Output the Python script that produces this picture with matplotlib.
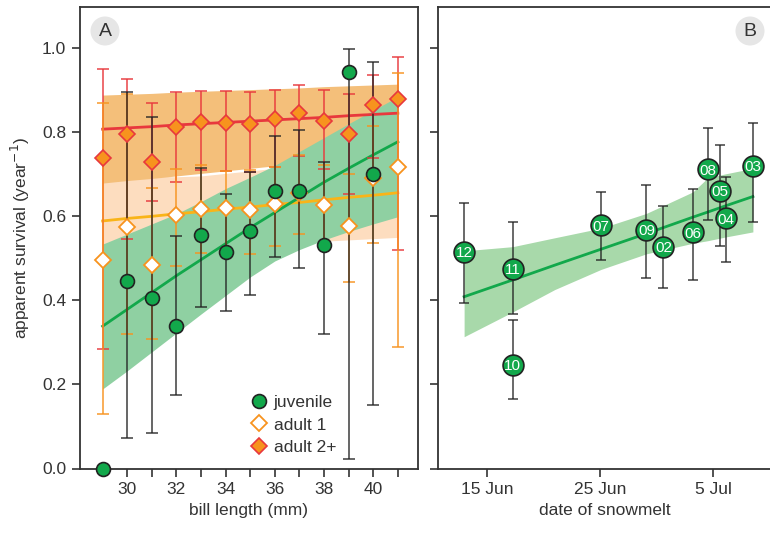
import numpy as np
import matplotlib
matplotlib.use("Agg")
import matplotlib.pyplot as plt
from matplotlib.patches import Circle

plt.rcParams['font.family'] = ['Liberation Sans', 'DejaVu Sans']

# ---------------- Panel A data ----------------
bill = [29, 30, 31, 32, 33, 34, 35, 36, 37, 38, 39, 40, 41]

juv_x = [29, 30, 31, 32, 33, 34, 35, 36, 37, 38, 39, 40]
juv_y = [0.0, 0.446, 0.406, 0.338, 0.555, 0.514, 0.564, 0.660, 0.660, 0.531, 0.943, 0.700]
juv_lo = [np.nan, 0.072, 0.085, 0.175, 0.384, 0.375, 0.412, 0.502, 0.476, 0.320, 0.022, 0.152]
juv_hi = [np.nan, 0.895, 0.834, 0.553, 0.713, 0.651, 0.705, 0.789, 0.805, 0.729, 0.997, 0.966]

ad1_y = [0.495, 0.574, 0.484, 0.603, 0.617, 0.619, 0.614, 0.628, 0.655, 0.626, 0.577, 0.691, 0.715]
ad1_lo = [0.129, 0.320, 0.307, 0.480, 0.513, 0.520, 0.509, 0.528, 0.556, 0.530, 0.443, 0.535, 0.288]
ad1_hi = [0.868, 0.890, 0.667, 0.712, 0.720, 0.707, 0.710, 0.717, 0.745, 0.720, 0.699, 0.814, 0.939]

ad2_y = [0.738, 0.794, 0.727, 0.810, 0.822, 0.821, 0.818, 0.829, 0.845, 0.826, 0.795, 0.864, 0.877]
ad2_lo = [0.285, 0.545, 0.636, 0.681, 0.709, 0.707, 0.705, 0.717, 0.742, 0.711, 0.651, 0.737, 0.520]
ad2_hi = [0.950, 0.925, 0.868, 0.895, 0.897, 0.896, 0.894, 0.899, 0.910, 0.900, 0.889, 0.935, 0.978]

# fitted curves and confidence bands (panel A)
fit_x = [29, 30, 31, 32, 33, 34, 35, 36, 37, 38, 39, 40, 41]
juv_fit = [0.338, 0.378, 0.418, 0.458, 0.496, 0.534, 0.572, 0.608, 0.644, 0.680, 0.713, 0.745, 0.776]
juv_band_lo = [0.189, 0.232, 0.277, 0.322, 0.367, 0.411, 0.455, 0.493, 0.520, 0.543, 0.563, 0.581, 0.598]
juv_band_hi = [0.533, 0.557, 0.581, 0.605, 0.634, 0.665, 0.692, 0.720, 0.753, 0.786, 0.819, 0.851, 0.883]

ad1_fit = [0.588, 0.594, 0.599, 0.605, 0.610, 0.616, 0.621, 0.627, 0.632, 0.638, 0.644, 0.649, 0.655]
ad1_band_lo = [0.420, 0.440, 0.460, 0.475, 0.490, 0.503, 0.515, 0.525, 0.535, 0.540, 0.543, 0.546, 0.549]
ad1_band_hi = [0.684, 0.689, 0.694, 0.693, 0.695, 0.701, 0.707, 0.713, 0.719, 0.725, 0.732, 0.738, 0.745]

ad2_fit = [0.806, 0.809, 0.812, 0.816, 0.819, 0.822, 0.825, 0.828, 0.831, 0.834, 0.838, 0.841, 0.844]
ad2_band_lo = [0.678, 0.684, 0.689, 0.695, 0.701, 0.707, 0.713, 0.719, 0.725, 0.731, 0.738, 0.744, 0.750]
ad2_band_hi = [0.887, 0.889, 0.891, 0.894, 0.896, 0.898, 0.900, 0.902, 0.904, 0.907, 0.909, 0.911, 0.913]

# ---------------- Panel B data ----------------
yr_labels = ['12', '11', '10', '07', '09', '02', '06', '08', '05', '04', '03']
melt_day = [13.0, 17.3, 17.3, 25.1, 29.1, 30.6, 33.2, 34.5, 35.6, 36.1, 38.5]   # day of June
surv_b = [0.515, 0.474, 0.247, 0.578, 0.567, 0.527, 0.561, 0.711, 0.660, 0.595, 0.719]
surv_b_lo = [0.393, 0.367, 0.166, 0.495, 0.453, 0.429, 0.448, 0.590, 0.528, 0.490, 0.586]
surv_b_hi = [0.631, 0.586, 0.352, 0.657, 0.673, 0.624, 0.665, 0.809, 0.769, 0.692, 0.821]

bfit_x = [13.0, 17.3, 21.0, 25.1, 29.1, 33.2, 34.5, 36.1, 38.5]
bfit_y = [0.408, 0.448, 0.483, 0.521, 0.558, 0.597, 0.609, 0.624, 0.646]
bband_lo = [0.313, 0.372, 0.425, 0.473, 0.510, 0.535, 0.541, 0.550, 0.562]
bband_hi = [0.517, 0.527, 0.548, 0.571, 0.606, 0.657, 0.690, 0.700, 0.713]

date_ticks = [15, 25, 35]
date_labels = ['15 Jun', '25 Jun', '5 Jul']

# ---------------- styling ----------------
C_GREEN = '#12A84B'
C_GREEN_BAND = '#8FD0A2'
C_GREEN_BAND_B = '#A8D9AA'
C_RED = '#E8383D'
C_ORANGE = '#F7931E'
C_ORANGE_BAND = '#F4BF7A'
C_PEACH_BAND = '#FDDDBF'
C_YELLOW = '#F9B418'
C_DARK = '#222222'
C_AX = '#333333'

fig = plt.figure(figsize=(7.7, 5.33), dpi=100)
axA = fig.add_axes([80/770, 1-468.5/533, (418-80)/770, (468.5-7.3)/533])
axB = fig.add_axes([438.3/770, 1-468.5/533, (771-438.3)/770, (468.5-7.3)/533])

# ---- Panel A ----
axA.fill_between(fit_x, ad1_band_lo, ad1_band_hi, color=C_PEACH_BAND, lw=0, zorder=1)
axA.fill_between(fit_x, ad2_band_lo, ad2_band_hi, color=C_ORANGE_BAND, lw=0, zorder=1.1)
axA.fill_between(fit_x, juv_band_lo, juv_band_hi, color=C_GREEN_BAND, lw=0, zorder=1.2)
axA.plot(fit_x, ad2_fit, color=C_RED, lw=2, zorder=2)
axA.plot(fit_x, ad1_fit, color=C_YELLOW, lw=2, zorder=2)
axA.plot(fit_x, juv_fit, color=C_GREEN, lw=2, zorder=2)

def yerr(y, lo, hi):
    y = np.array(y); lo = np.array(lo); hi = np.array(hi)
    return np.vstack([y - lo, hi - y])

axA.errorbar(bill, ad2_y, yerr=yerr(ad2_y, ad2_lo, ad2_hi), fmt='none',
             ecolor=C_RED, elinewidth=1.3, capsize=4.3, capthick=1.3, alpha=0.8, zorder=3)
axA.errorbar(bill, ad1_y, yerr=yerr(ad1_y, ad1_lo, ad1_hi), fmt='none',
             ecolor=C_ORANGE, elinewidth=1.3, capsize=4.3, capthick=1.3, alpha=0.8, zorder=3.1)
axA.errorbar(juv_x, juv_y, yerr=yerr(juv_y, juv_lo, juv_hi), fmt='none',
             ecolor=C_DARK, elinewidth=1.3, capsize=4.3, capthick=1.3, alpha=0.75, zorder=3.2)

axA.plot(bill, ad2_y, 'D', ms=8.5, mfc=C_ORANGE, mec=C_RED, mew=1.2, ls='none', zorder=4, label='adult 2+')
axA.plot(bill, ad1_y, 'D', ms=8.5, mfc='white', mec=C_ORANGE, mew=1.3, ls='none', zorder=4.1, label='adult 1')
axA.plot(juv_x, juv_y, 'o', ms=10, mfc=C_GREEN, mec=C_DARK, mew=1.2, ls='none', zorder=4.2,
         clip_on=False, label='juvenile')

axA.set_xlim(28.08, 41.82)
axA.set_ylim(0, 1.0955)
axA.set_xticks(bill)
axA.set_xticklabels([str(b) if b % 2 == 0 else '' for b in bill])
axA.set_yticks([0.0, 0.2, 0.4, 0.6, 0.8, 1.0])
axA.set_yticklabels(['0.0', '0.2', '0.4', '0.6', '0.8', '1.0'])
axA.set_xlabel('bill length (mm)', fontsize=12.5, color=C_AX, labelpad=4)
axA.set_ylabel('apparent survival (year$^{-1}$)', fontsize=12.5, color=C_AX, labelpad=7)

handles, labels = axA.get_legend_handles_labels()
order = [2, 1, 0]
leg = axA.legend([handles[i] for i in order], [labels[i] for i in order],
                 loc='lower left', bbox_to_anchor=(0.47, 0.015), frameon=False,
                 fontsize=12.5, handletextpad=0.1, labelspacing=0.4, borderaxespad=0,
                 handlelength=1.5)
for t in leg.get_texts():
    t.set_color(C_AX)

# ---- Panel B ----
axB.fill_between(bfit_x, bband_lo, bband_hi, color=C_GREEN_BAND_B, lw=0, zorder=1)
axB.plot(bfit_x, bfit_y, color=C_GREEN, lw=2, zorder=2)
axB.errorbar(melt_day, surv_b, yerr=yerr(surv_b, surv_b_lo, surv_b_hi), fmt='none',
             ecolor=C_DARK, elinewidth=1.2, capsize=3.5, capthick=1.2, alpha=0.8, zorder=3)
axB.plot(melt_day, surv_b, 'o', ms=15, mfc=C_GREEN, mec=C_DARK, mew=1.2, ls='none', zorder=4)
for d, s, lab in zip(melt_day, surv_b, yr_labels):
    axB.text(d, s, lab, color='white', fontsize=11, ha='center', va='center_baseline', zorder=5)

axB.set_xlim(10.72, 40.1)
axB.set_ylim(0, 1.0955)
axB.set_xticks(date_ticks)
axB.set_xticklabels(date_labels)
axB.set_yticks([0.0, 0.2, 0.4, 0.6, 0.8, 1.0])
axB.set_yticklabels([])
axB.set_xlabel('date of snowmelt', fontsize=12.5, color=C_AX, labelpad=4)
axB.spines['right'].set_visible(False)

for ax in (axA, axB):
    for sp in ax.spines.values():
        sp.set_color(C_AX)
        sp.set_linewidth(1.3)
    ax.tick_params(direction='out', length=6, width=1.2, color=C_AX, labelcolor=C_AX,
                   labelsize=12.5, pad=4)

# panel letters
for ax, xpx, letter in ((axA, 105, 'A'), (axB, 750, 'B')):
    cx, cy = xpx / 770, 1 - 31 / 533
    fig.patches.append(Circle((cx * 770, cy * 533), 14.5, transform=None,
                              facecolor='#E6E6E6', edgecolor='none', zorder=0))
    fig.text(cx, cy, letter, fontsize=14, ha='center', va='center', color=C_AX, zorder=10)

fig.savefig('out.png', dpi=100)
